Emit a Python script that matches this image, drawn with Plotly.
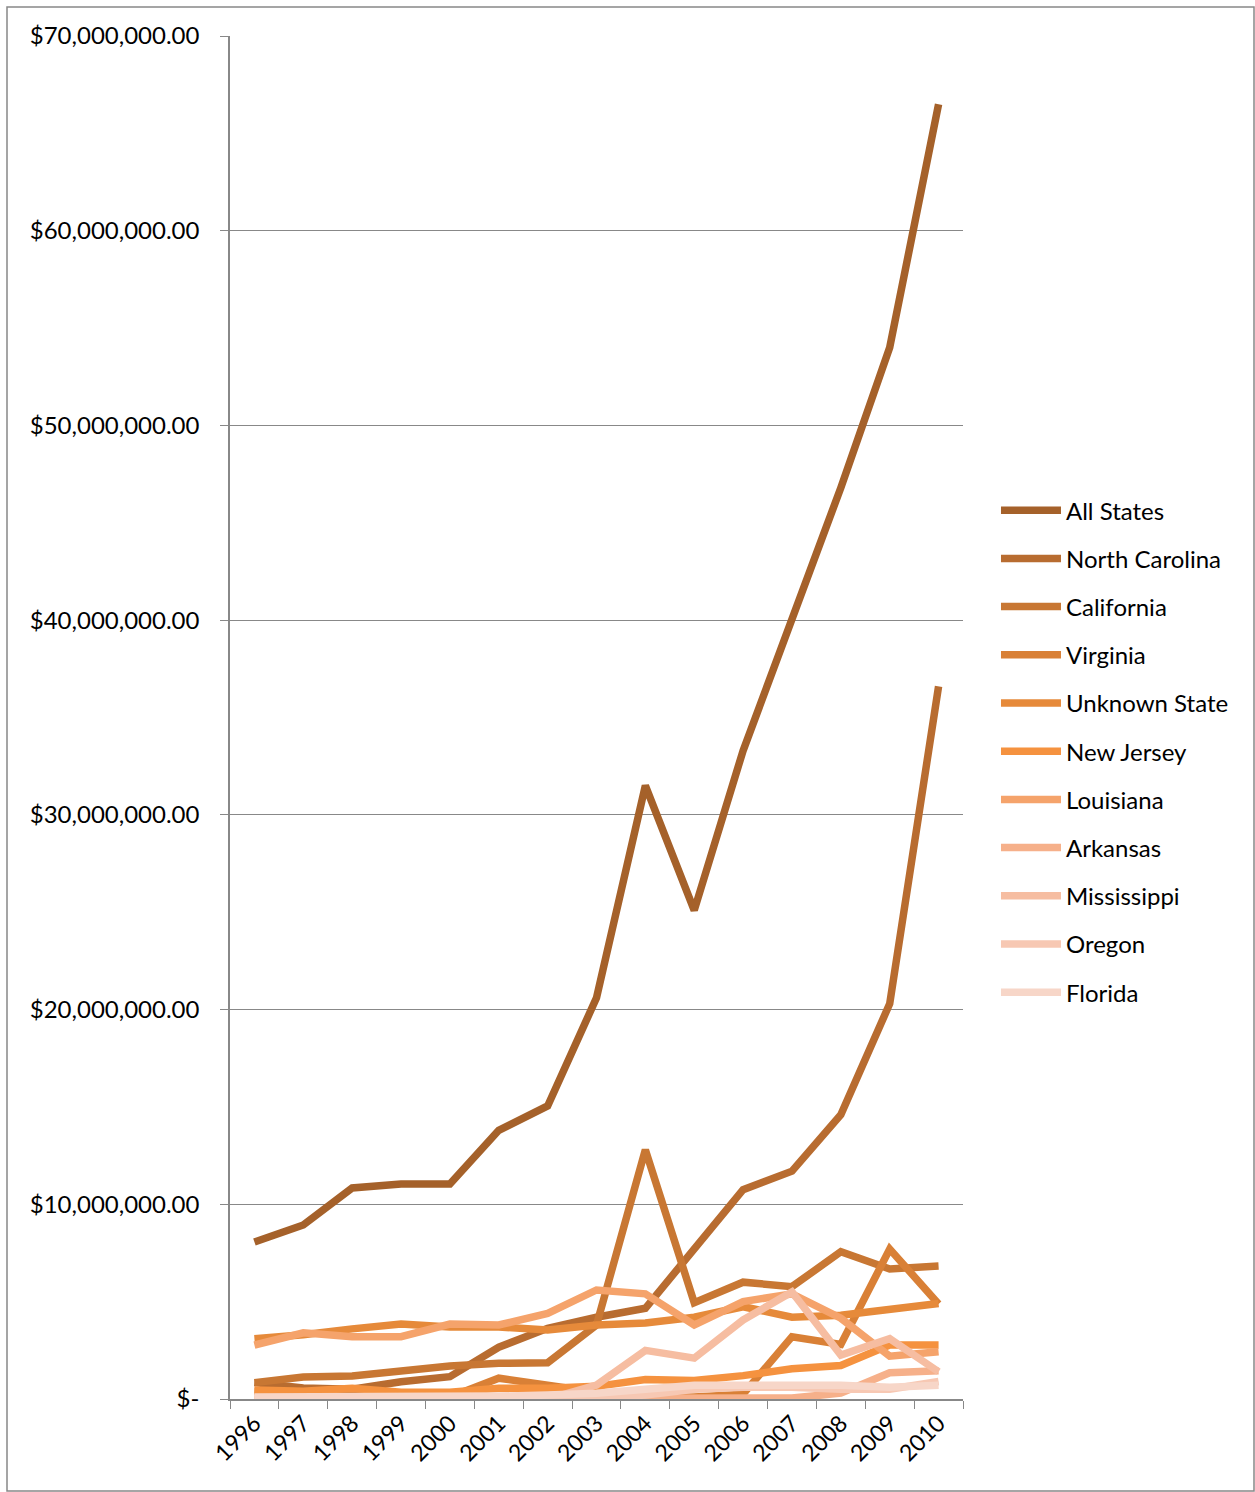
import plotly.graph_objects as go

years = [str(y) for y in range(1996, 2011)]

all_states     = [8.06, 8.94, 10.84, 11.04, 11.04, 13.8, 15.05, 20.6, 31.5, 25.1, 33.3, 40.0, 46.8, 54.0, 66.5]
north_carolina = [0.84, 0.56, 0.50, 0.89, 1.15, 2.66, 3.63, 4.2, 4.66, 7.65, 10.75, 11.7, 14.6, 20.3, 36.6]
california     = [0.84, 1.13, 1.18, 1.45, 1.69, 1.83, 1.86, 3.8, 12.8, 4.95, 6.0, 5.77, 7.56, 6.68, 6.83]
virginia       = [0.40, 0.30, 0.30, 0.20, 0.10, 1.07, 0.67, 0.35, 0.10, 0.10, 0.25, 3.2, 2.8, 7.7, 4.88]
unknown_state  = [3.10, 3.30, 3.60, 3.85, 3.70, 3.70, 3.54, 3.80, 3.90, 4.20, 4.74, 4.20, 4.30, 4.60, 4.90]
new_jersey     = [0.46, 0.40, 0.55, 0.35, 0.35, 0.55, 0.55, 0.65, 1.0, 0.95, 1.2, 1.55, 1.72, 2.77, 2.77]
louisiana      = [2.77, 3.40, 3.20, 3.20, 3.85, 3.80, 4.40, 5.60, 5.40, 3.80, 5.00, 5.40, 4.15, 2.20, 2.43]
arkansas       = [0.0, 0.0, 0.0, 0.0, 0.0, 0.0, 0.0, 0.0, 0.0, 0.0, 0.0, 0.05, 0.3, 1.35, 1.45]
mississippi    = [0.0, 0.0, 0.0, 0.0, 0.0, 0.0, 0.0, 0.72, 2.5, 2.1, 4.06, 5.5, 2.26, 3.1, 1.4]
oregon         = [0.05, 0.05, 0.05, 0.05, 0.05, 0.05, 0.05, 0.1, 0.2, 0.5, 0.6, 0.6, 0.5, 0.5, 0.9]
florida        = [0.1, 0.1, 0.1, 0.1, 0.1, 0.15, 0.2, 0.3, 0.5, 0.7, 0.7, 0.7, 0.7, 0.6, 0.7]

series_names = ["All States", "North Carolina", "California", "Virginia", "Unknown State",
                "New Jersey", "Louisiana", "Arkansas", "Mississippi", "Oregon", "Florida"]
series_values = [all_states, north_carolina, california, virginia, unknown_state,
                 new_jersey, louisiana, arkansas, mississippi, oregon, florida]
colors = ["#A5612A", "#B86C30", "#C87733", "#D98036", "#E68A3A", "#F5923F",
          "#F5A36B", "#F6B08A", "#F6BDA1", "#F7C8B3", "#F7D6C8"]

y_tick_vals = [0, 10, 20, 30, 40, 50, 60, 70]
y_tick_text = ["$-", "$10,000,000.00", "$20,000,000.00", "$30,000,000.00", "$40,000,000.00",
               "$50,000,000.00", "$60,000,000.00", "$70,000,000.00"]

fig = go.Figure()
for name, vals, col in zip(series_names, series_values, colors):
    fig.add_trace(go.Scatter(
        x=years, y=[v * 1e6 for v in vals], name=name, mode="lines",
        line=dict(color=col, width=7.5), legendgroup=name,
    ))

font_family = "Lato, 'Open Sans', sans-serif"
fig.update_layout(
    width=1255, height=1492,
    margin=dict(l=230, r=292, t=36, b=93),
    paper_bgcolor="white", plot_bgcolor="white",
    font=dict(family=font_family, size=24, color="#000"),
    showlegend=True,
    legend=dict(x=1.045, y=0.475, xanchor="left", yanchor="middle",
                font=dict(size=24, color="#000"), itemwidth=60,
                tracegroupgap=14, traceorder="grouped", bgcolor="rgba(0,0,0,0)"),
    xaxis=dict(type="category", tickson="boundaries", ticks="outside", ticklen=8,
               tickcolor="#888", showline=True, linecolor="#888", linewidth=1.5,
               showgrid=False, tickangle=-45, tickfont=dict(size=23),
               range=[-0.5, 14.5]),
    yaxis=dict(range=[0, 70e6], tickvals=[v * 1e6 for v in y_tick_vals], ticktext=y_tick_text,
               ticks="outside", ticklen=8, tickcolor="#888", showline=True, linecolor="#888",
               linewidth=1.5, showgrid=True, gridcolor="#888", gridwidth=1.3,
               zeroline=False, tickfont=dict(size=24), ticklabelstandoff=16),
    hovermode=False,
)
fig.add_shape(type="rect", xref="paper", yref="paper",
              x0=(7 - 230) / 733, x1=(1254 - 230) / 733,
              y0=(1399 - 1491) / 1363, y1=(1399 - 7) / 1363,
              line=dict(color="#888", width=1.5), layer="below")

fig.write_html("out.html")
